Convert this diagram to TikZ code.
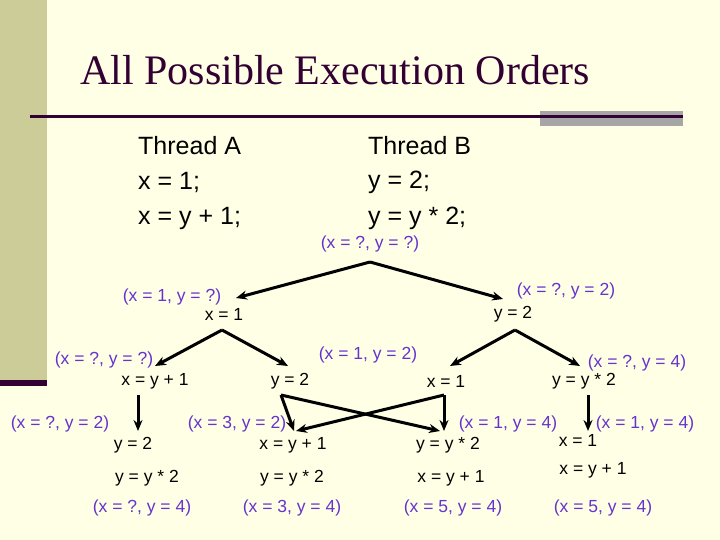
\documentclass[tikz,border=0pt]{standalone}
\usepackage{fontspec}
\setmainfont{Liberation Sans}
\newfontfamily\titlefont{Liberation Serif}
\usetikzlibrary{arrows.meta}
\definecolor{bg}{HTML}{FFFFE6}
\definecolor{bar}{HTML}{CCCC99}
\definecolor{dk}{HTML}{330033}
\definecolor{lab}{HTML}{6633CC}
\begin{document}
\begin{tikzpicture}[x=1pt,y=-1pt,
  st/.style={text=lab,font=\fontsize{17.5}{20}\selectfont,inner sep=0pt},
  op/.style={text=black,font=\fontsize{17.5}{20}\selectfont,inner sep=0pt},
  th/.style={anchor=west,font=\fontsize{25}{30}\selectfont,inner sep=0pt},
  arr/.style={line width=3pt,-{Stealth[length=11pt,width=9pt]}}]
\useasboundingbox (0,0) rectangle (720,540);
\fill[bg] (0,0) rectangle (720,540);
\fill[bar] (0,0) rectangle (47,382);
\fill[dk] (0,380) rectangle (47,386);
\fill[gray!70] (540,111) rectangle (683,126);
\draw[dk,line width=3pt] (30,117) -- (683,117);
\node[anchor=west,text=dk,font=\titlefont\fontsize{42}{46}\selectfont,inner sep=0pt] (title) at (80,70) {All Possible Execution Orders};
\node[th] (ta1) at (138,146) {Thread A};
\node[th] (ta2) at (138,182) {x = 1;};
\node[th] (ta3) at (138,218) {x = y + 1;};
\node[th] (tb1) at (368,146) {Thread B};
\node[th] (tb2) at (368,182) {y = 2;};
\node[th] (tb3) at (368,218) {y = y * 2;};
% tree
\node[st] (s0) at (370,244) {(x = ?, y = ?)};
\node[st] (s1) at (172,297) {(x = 1, y = ?)};
\node[op] (o1) at (224,314) {x = 1};
\node[st] (s2) at (566,291) {(x = ?, y = 2)};
\node[op] (o2) at (513,314) {y = 2};
\node[st] (s3) at (104,360) {(x = ?, y = ?)};
\node[op] (o3) at (155,381) {x = y + 1};
\node[st] (s4) at (368,355) {(x = 1, y = 2)};
\node[op] (o4) at (290,381) {y = 2};
\node[op] (o5) at (446,381) {x = 1};
\node[st] (s6) at (637,363) {(x = ?, y = 4)};
\node[op] (o6) at (584,381) {y = y * 2};
\node[st] (s7) at (60,424) {(x = ?, y = 2)};
\node[op] (o7) at (133,445) {y = 2};
\node[st] (s8) at (237,424) {(x = 3, y = 2)};
\node[op] (o8) at (293,445) {x = y + 1};
\node[st] (s9) at (508,424) {(x = 1, y = 4)};
\node[op] (o9) at (448,445) {y = y * 2};
\node[st] (s10) at (645,424) {(x = 1, y = 4)};
\node[op] (o10) at (578,440) {x = 1};
\node[op] (o11) at (147,478) {y = y * 2};
\node[op] (o12) at (292,478) {y = y * 2};
\node[op] (o13) at (451,478) {x = y + 1};
\node[op] (o14) at (593,470) {x = y + 1};
\node[st] (s11) at (142,508) {(x = ?, y = 4)};
\node[st] (s12) at (292,508) {(x = 3, y = 4)};
\node[st] (s13) at (453,508) {(x = 5, y = 4)};
\node[st] (s14) at (603,508) {(x = 5, y = 4)};
% connector ends
\coordinate (a0) at (370,262);
\coordinate (a1) at (236,298);
\coordinate (a2) at (503,299);
\coordinate (b1) at (222,330);
\coordinate (b1l) at (155,366);
\coordinate (b1r) at (288,366);
\coordinate (b2) at (515,330);
\coordinate (b2l) at (450,366);
\coordinate (b2r) at (580,366);
\coordinate (c1) at (138,395);
\coordinate (c1e) at (138,431);
\coordinate (c2) at (281,395);
\coordinate (c2e) at (294,431);
\coordinate (c2x) at (440,431);
\coordinate (c3) at (444,395);
\coordinate (c3e) at (444,431);
\coordinate (c3x) at (296,431);
\coordinate (c4) at (588,395);
\coordinate (c4e) at (588,431);
\draw[arr] (a0) -- (a1);
\draw[arr] (a0) -- (a2);
\draw[arr] (b1) -- (b1l);
\draw[arr] (b1) -- (b1r);
\draw[arr] (b2) -- (b2l);
\draw[arr] (b2) -- (b2r);
\draw[arr] (c1) -- (c1e);
\draw[arr] (c2) -- (c2e);
\draw[arr] (c2) -- (c2x);
\draw[arr] (c3) -- (c3e);
\draw[arr] (c3) -- (c3x);
\draw[arr] (c4) -- (c4e);
\end{tikzpicture}
\end{document}
